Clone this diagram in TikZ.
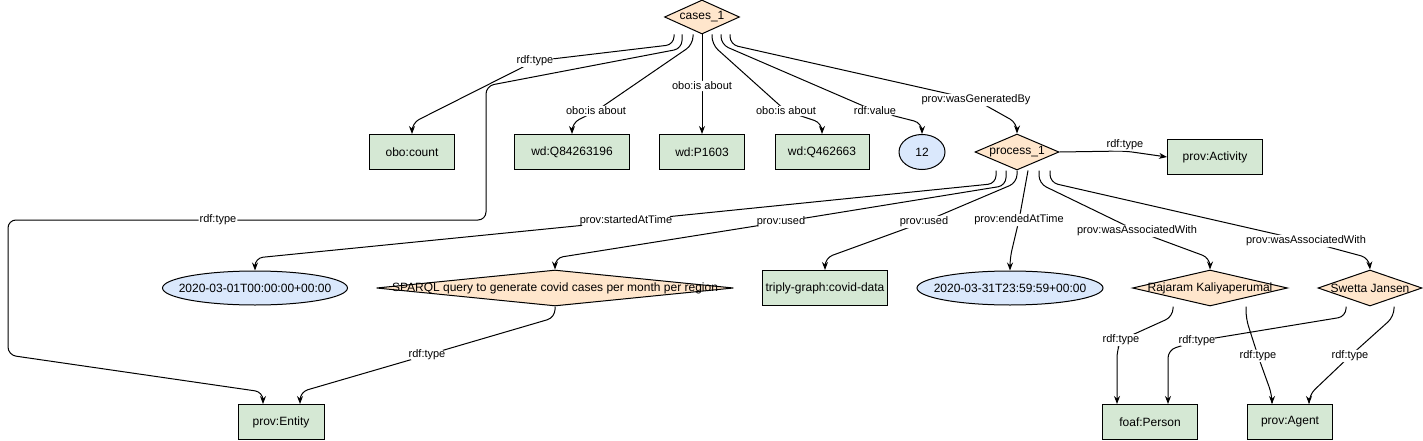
\documentclass[tikz,border=0pt]{standalone}
\usepackage{fontspec}
\setmainfont{Liberation Sans}
\usetikzlibrary{shapes.geometric,arrows.meta}
\definecolor{clsfill}{HTML}{D5E8D4}
\definecolor{instfill}{HTML}{FFE6CC}
\definecolor{litfill}{HTML}{DAE8FC}
\newcommand{\fixw}[1]{\makebox[0pt]{#1}}
\begin{document}
\begin{tikzpicture}[x=1pt, y=-1pt,
        cls/.style={rectangle, draw, line width=1pt, fill=clsfill, minimum height=35pt, inner sep=1pt, font=\fontsize{12}{14}\selectfont},
        inst/.style={diamond, draw, line width=1pt, fill=instfill, inner sep=0pt, font=\fontsize{12}{14}\selectfont},
        lit/.style={ellipse, draw, line width=1pt, fill=litfill, inner sep=0pt, font=\fontsize{12}{14}\selectfont},
        lbl/.style={fill=white, inner sep=1pt, font=\fontsize{11}{13}\selectfont},
        link/.style={draw, line width=1pt, rounded corners=8pt, -{Stealth[length=8pt,width=6pt]}}]
        \useasboundingbox (0,0) rectangle (1423,441);

        \foreach \n/\x/\y/\w/\t in {count/412/152/85/obo:count, q1/572/152/115/wd:Q84263196,
            p1603/702/152/85/wd:P1603, q2/822/152/94/wd:Q462663, activity/1215/157/95/prov:Activity,
            graph/825/288/125/triply-graph:covid-data, entity/281/422/86/prov:Entity,
            person/1150/422/95/foaf:Person, agent/1290/422/85/prov:Agent} {
            \node[cls, minimum width=\w pt] (\n) at (\x,\y) {\t};
        }

        \node[inst, minimum width=75pt, minimum height=34pt] (cases) at (702,17) {\fixw{cases\_1}};
        \node[inst, minimum width=84pt, minimum height=36pt] (process) at (1017,152) {\fixw{process\_1}};
        \node[inst, minimum width=357pt, minimum height=36pt] (query) at (555,288) {\fixw{SPARQL query to generate covid cases per month per region}};
        \node[inst, minimum width=155pt, minimum height=36pt] (raj) at (1210,288) {\fixw{Rajaram Kaliyaperumal}};
        \node[inst, minimum width=104pt, minimum height=36pt] (swe) at (1370,288) {\fixw{Swetta Jansen}};

        \node[lit, minimum width=46pt, minimum height=35pt] (val) at (922,152) {\fixw{12}};
        \node[lit, minimum width=185pt, minimum height=34pt] (start) at (255,288) {\fixw{2020-03-01T00:00:00+00:00}};
        \node[lit, minimum width=186pt, minimum height=34pt] (end) at (1010,288) {\fixw{2020-03-31T23:59:59+00:00}};

        \draw[link] ([xshift=-28]cases.south) -- ++(0,10) -- (535,61) node[lbl]{rdf:type} -- (412,123) -- (count.north);
        \draw[link] ([xshift=-20]cases.south) -- ++(0,14) -- (486,86) -- (486,220) -- (218,220) node[lbl]{rdf:type}
            -- (8,220) -- (8,355) -- (263,392) -- ([xshift=-18]entity.north);
        \draw[link] ([xshift=-9]cases.south) -- ++(0,10) -- (596,111) node[lbl]{obo:is about} -- (572,123) -- (q1.north);
        \draw[link] (cases.south) -- (702,86) node[lbl]{obo:is about} -- (p1603.north);
        \draw[link] ([xshift=10]cases.south) -- ++(0,10) -- (786,111) node[lbl]{obo:is about} -- (822,123) -- (q2.north);
        \draw[link] ([xshift=19]cases.south) -- ++(0,10) -- (875,111) node[lbl]{rdf:value} -- (922,123) -- (val.north);
        \draw[link] ([xshift=28]cases.south) -- ++(0,10) -- (976,100) node[lbl]{prov:wasGeneratedBy} -- (1017,123) -- (process.north);

        \draw[link] ([xshift=-21]process.south) -- ++(0,13) -- (626,221) node[lbl]{prov:startedAtTime} -- (255,258) -- (start.north);
        \draw[link] ([xshift=-11]process.south) -- ++(0,15) -- (781,222) node[lbl]{prov:used} -- (555,258) -- (query.north);
        \draw[link] (process.south) -- ++(0,12) -- (924,222) node[lbl]{prov:used} -- (825,258) -- (graph.north);
        \draw[link] ([xshift=11]process.south) -- (1019,220) node[lbl]{prov:endedAtTime} -- (1010,258) -- (end.north);
        \draw[link] ([xshift=22]process.south) -- ++(0,13) -- (1137,231) node[lbl]{prov:wasAssociatedWith} -- (1210,258) -- (raj.north);
        \draw[link] ([xshift=33]process.south) -- ++(0,12) -- (1306,241) node[lbl]{prov:wasAssociatedWith} -- (1369,258) -- (swe.north);
        \draw[link] (process.east) -- (1125,151) node[lbl, above]{rdf:type} -- (activity.west);

        \draw[link] (query.south) -- ++(0,11) -- (427,355) node[lbl]{rdf:type} -- (300,392) -- ([xshift=19]entity.north);
        \draw[link] ([xshift=-37]raj.south) -- ++(0,10) -- (1121,340) node[lbl]{rdf:type} -- (1117,350) -- ([xshift=-33]person.north);
        \draw[link] ([xshift=36]raj.south) -- ++(0,12) -- (1258,356) node[lbl]{rdf:type} -- (1272,395) -- ([xshift=-18]agent.north);
        \draw[link] ([xshift=-24]swe.south) -- ++(0,10) -- (1197,341) node[lbl]{rdf:type} -- (1168,350) -- ([xshift=18]person.north);
        \draw[link] ([xshift=24]swe.south) -- ++(0,10) -- (1350,356) node[lbl]{rdf:type} -- (1309,395) -- ([xshift=19]agent.north);
    \end{tikzpicture}
\end{document}
